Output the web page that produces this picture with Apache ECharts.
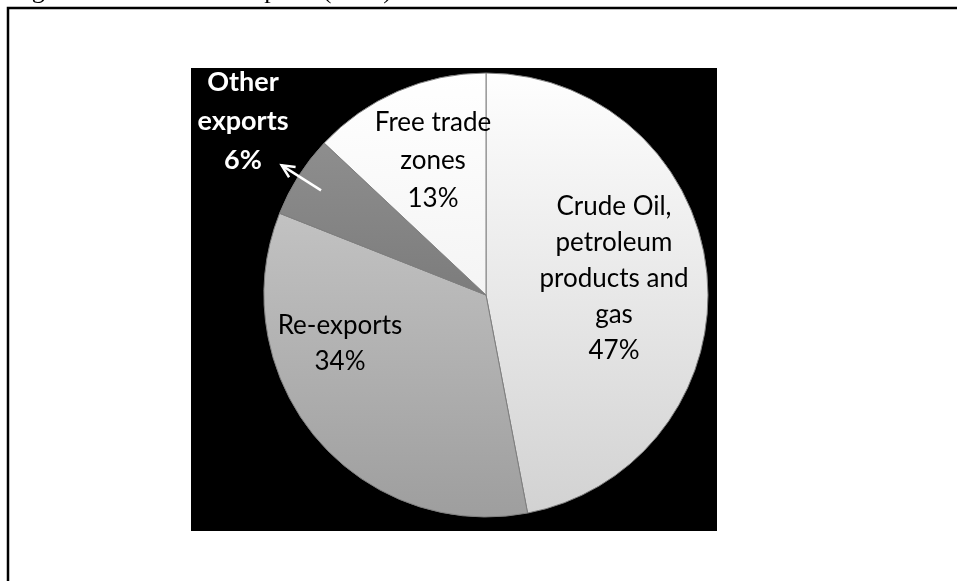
<!DOCTYPE html>
<html>
<head>
<meta charset="utf-8">
<script src="https://cdn.jsdelivr.net/npm/echarts@6/dist/echarts.min.js"></script>
<style>
    html, body { margin: 0; padding: 0; background: #fff; }
    #chart { width: 957px; height: 581px; }
</style>
</head>
<body>
<div id="chart"></div>
<script>
// UAE exports by type, percent share
const categories = ['Crude Oil, petroleum products and gas', 'Re-exports', 'Other exports', 'Free trade zones'];
const shares = [47, 34, 6, 13];
const labelNames = ['Crude Oil,\npetroleum\nproducts and\ngas', 'Re-exports', 'Other\nexports', 'Free trade\nzones'];

// label anchor points (centre of each text block) and line spacing
const labelSpots = [[614, 279], [340, 344], [243, 121], [433, 161]];
const labelLineHeights = [36, 36, 39, 38];

const pieCenter = [486, 295];
const pieRadius = 222;

// slice fills, top -> bottom
const sliceFills = [
    ['#fefefe', '#d2d2d2'],
    ['#c2c2c2', '#9e9e9e'],
    ['#8e8e8e', '#7c7c7c'],
    ['#ffffff', '#f4f4f4']
];

const chart = echarts.init(document.getElementById('chart'));

// arrow for the small slice, along its mid angle
const total = shares.reduce((a, b) => a + b, 0);
const before = shares[0] + shares[1];
const midAng = (before + shares[2] / 2) / total * Math.PI * 2;
const arrowFrom = [pieCenter[0] + Math.sin(midAng) * pieRadius * 0.88, pieCenter[1] - Math.cos(midAng) * pieRadius * 0.88];
const arrowTo = [pieCenter[0] + Math.sin(midAng) * pieRadius * 1.09, pieCenter[1] - Math.cos(midAng) * pieRadius * 1.09];
const headLen = 14;
const back = Math.atan2(arrowFrom[1] - arrowTo[1], arrowFrom[0] - arrowTo[0]);
const headA = [arrowTo[0] + Math.cos(back + 0.45) * headLen, arrowTo[1] + Math.sin(back + 0.45) * headLen];
const headB = [arrowTo[0] + Math.cos(back - 0.45) * headLen, arrowTo[1] + Math.sin(back - 0.45) * headLen];

const option = {
    animation: false,
    backgroundColor: '#ffffff',
    graphic: [
        {
            // caption is cut off at the top edge, only its bottom shows
            type: 'text', x: 10, y: 4, z: 1,
            style: {
                text: 'Figure 1: The UAE\u2019s Exports (1999)', font: '26px "Liberation Serif"',
                fill: '#000', verticalAlign: 'bottom'
            }
        },
        {
            type: 'polyline', z: 1,
            shape: { points: [[8, 581], [8, 8], [957, 8]] },
            style: { stroke: '#000', lineWidth: 2.5, fill: null }
        },
        {
            type: 'rect', z: 0,
            shape: { x: 191, y: 68, width: 526, height: 463 },
            style: { fill: '#000' }
        },
        {
            type: 'polyline', z: 10,
            shape: { points: [arrowFrom, arrowTo] },
            style: { stroke: '#fff', lineWidth: 2.5, fill: null }
        },
        {
            type: 'polyline', z: 10,
            shape: { points: [headA, arrowTo, headB] },
            style: { stroke: '#fff', lineWidth: 2.5, fill: null }
        }
    ],
    series: [
        {
            type: 'pie',
            center: pieCenter,
            radius: pieRadius,
            startAngle: 90,
            clockwise: true,
            z: 5,
            itemStyle: { borderColor: '#808080', borderWidth: 1 },
            labelLine: { show: false },
            label: {
                position: 'inside',
                color: '#000',
                fontFamily: 'Lato',
                fontSize: 26,
                align: 'center',
                formatter: p => labelNames[p.dataIndex] + '\n' + p.value + '%'
            },
            labelLayout: p => ({
                x: labelSpots[p.dataIndex][0],
                y: labelSpots[p.dataIndex][1],
                align: 'center',
                verticalAlign: 'middle'
            }),
            emphasis: { disabled: true },
            data: categories.map((c, i) => ({
                name: c,
                value: shares[i],
                itemStyle: {
                    color: new echarts.graphic.LinearGradient(0, 0, 0, 1, [
                        { offset: 0, color: sliceFills[i][0] },
                        { offset: 1, color: sliceFills[i][1] }
                    ])
                },
                label: Object.assign(
                    { lineHeight: labelLineHeights[i] },
                    i === 2 ? { color: '#fff', fontWeight: 'bold', fontSize: 27 } : {}
                )
            }))
        }
    ]
};

chart.setOption(option);
</script>
</body>
</html>
